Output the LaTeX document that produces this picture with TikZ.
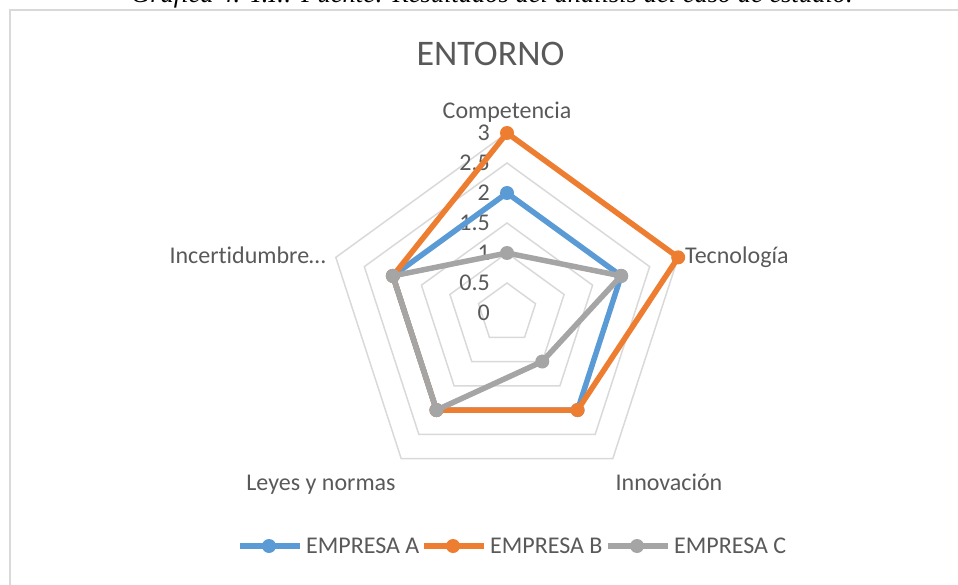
\documentclass[tikz,border=0pt]{standalone}
\usepackage{fontspec}
\setmainfont{Carlito}[Ligatures=CommonOff]
\newfontfamily\capfont{Liberation Serif}
\usetikzlibrary{positioning}
\definecolor{serieA}{HTML}{5B9BD5}
\definecolor{serieB}{HTML}{ED7D31}
\definecolor{serieC}{HTML}{A5A5A5}
\definecolor{gridgray}{HTML}{D9D9D9}
\definecolor{textgray}{HTML}{595959}

\begin{document}
\begin{tikzpicture}[x=1pt,y=-1pt,
	every node/.style={inner sep=0pt,text=textgray,font=\fontsize{24}{28}\selectfont},
	grid/.style={draw=gridgray,line width=1.5pt},
	serie/.style={line width=5.5pt,line join=round,line cap=round},
	marker/.style={circle,fill=#1,minimum size=14pt,inner sep=0pt}]

	\useasboundingbox (0,0) rectangle (958,585);
	\clip (0,0) rectangle (958,585);

	% caption, cut by the page top
	\node[anchor=base,text=black,font=\capfont\itshape\fontsize{26.5}{30}\selectfont] (cap) at (492,3)
		{Gráfica 4. T.I.: Fuente: Resultados del análisis del caso de estudio.};
	% chart frame
	\draw[draw=gridgray,line width=2pt] (9.5,10.5) rectangle (990,610);

	\node[anchor=base,font=\fontsize{36}{40}\selectfont] (title) at (490.5,66) {ENTORNO};

	\begin{scope}[shift={(507,313)},y=1pt]
		\foreach \r in {30,60,...,180}
			\draw[grid] (90:\r) -- (18:\r) -- (-54:\r) -- (-126:\r) -- (162:\r) -- cycle;
		\foreach \v/\r in {0/0,0.5/30,1/60,1.5/90,2/120,2.5/150,3/180}
			\node[anchor=east] (tick\r) at (-17,\r) {\v};

		% EMPRESA A
		\path (90:120) coordinate (A1) (18:120) coordinate (A2) (-54:120) coordinate (A3)
			(-126:120) coordinate (A4) (162:120) coordinate (A5);
		\draw[serie,serieA] (A1) -- (A2) -- (A3) -- (A4) -- (A5) -- cycle;
		\foreach \i in {1,...,5} \node[marker=serieA] at (A\i) {};

		% EMPRESA B
		\path (90:180) coordinate (B1) (18:180) coordinate (B2) (-54:120) coordinate (B3)
			(-126:120) coordinate (B4) (162:120) coordinate (B5);
		\draw[serie,serieB] (B1) -- (B2) -- (B3) -- (B4) -- (B5) -- cycle;
		\foreach \i in {1,...,5} \node[marker=serieB] at (B\i) {};

		% EMPRESA C
		\path (90:60) coordinate (C1) (18:120) coordinate (C2) (-54:60) coordinate (C3)
			(-126:120) coordinate (C4) (162:120) coordinate (C5);
		\draw[serie,serieC] (C1) -- (C2) -- (C3) -- (C4) -- (C5) -- cycle;
		\foreach \i in {1,...,5} \node[marker=serieC] at (C\i) {};
	\end{scope}

	% axis names
	\node[anchor=base] (competencia) at (507,119) {Competencia};
	\node[anchor=base west] (tecnologia) at (685,264) {Tecnología};
	\node[anchor=base] (innovacion) at (669,490) {Innovación};
	\node[anchor=base] (leyes) at (321,490) {Leyes y normas};
	\node[anchor=base east] (incert) at (326,264) {Incertidumbre…};

	% legend
	\foreach \s/\x/\t in {serieA/240/EMPRESA A,serieB/424/EMPRESA B,serieC/608/EMPRESA C}{
		\coordinate (l\s) at (\x,546);
		\coordinate (r\s) at (\x+60,546);
		\draw[serie,\s,line cap=butt] (l\s) -- (r\s);
		\node[marker=\s] (m\s) at (\x+29,546) {};
		\node[anchor=base west] (t\s) at (\x+66,553) {\t};
	}
\end{tikzpicture}
\end{document}
